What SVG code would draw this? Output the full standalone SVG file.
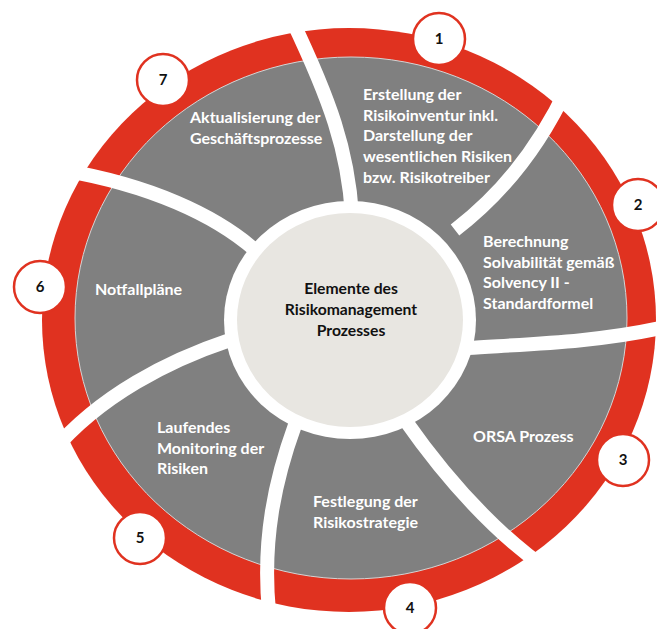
<svg xmlns="http://www.w3.org/2000/svg" width="657" height="629" viewBox="0 0 657 629">
<style>
.lbl{font-family:Lato,"Liberation Sans",sans-serif;font-weight:700;font-size:16px;fill:#ffffff}
.ctr{font-family:Lato,"Liberation Sans",sans-serif;font-weight:700;font-size:15.7px;fill:#111111;text-anchor:middle}
.num{font-family:Lato,"Liberation Sans",sans-serif;font-weight:700;font-size:15px;fill:#111111;text-anchor:middle}
.badge{fill:#ffffff;stroke:#e03220;stroke-width:2.5}
.sep{fill:none;stroke:#ffffff;stroke-width:14;stroke-linecap:butt}
</style>
<rect width="657" height="629" fill="#ffffff"/>
<g id="ring">
<ellipse cx="349" cy="320" rx="307" ry="292" fill="#e03220"/>
<ellipse cx="351" cy="318" rx="276" ry="261" fill="#808080" stroke="#d4d4d4" stroke-width="1"/>
</g>
<g id="separators">
<path class="sep" d="M352,215 C348,150 330,100 292,20"/>
<path class="sep" d="M455,230 C498,197 538,150 567,88"/>
<path class="sep" d="M468,348 C530,344 600,342 665,327"/>
<path class="sep" d="M405,420 C440,470 490,530 552,573"/>
<path class="sep" d="M295,425 C275,480 262,540 269,612"/>
<path class="sep" d="M230,340 C170,360 100,395 52,452"/>
<path class="sep" d="M255,250 C215,215 150,185 62,170"/>
</g>
<g id="center">
<ellipse cx="350" cy="320" rx="126" ry="119" fill="#ffffff"/>
<ellipse cx="350" cy="320" rx="113" ry="107" fill="#e8e6e1"/>
<text class="ctr" x="351" y="293.5">Elemente des</text>
<text class="ctr" x="351" y="314.5">Risikomanagement</text>
<text class="ctr" x="351" y="335.5">Prozesses</text>
</g>
<g id="seg1">
<text class="lbl" x="363" y="100">Erstellung der</text>
<text class="lbl" x="363" y="120.7">Risikoinventur inkl.</text>
<text class="lbl" x="363" y="141.4">Darstellung der</text>
<text class="lbl" x="363" y="162.1">wesentlichen Risiken</text>
<text class="lbl" x="363" y="182.8">bzw. Risikotreiber</text>
<circle class="badge" cx="439" cy="39" r="26"/>
<text class="num" x="439" y="44">1</text>
</g>
<g id="seg2">
<text class="lbl" x="483" y="247">Berechnung</text>
<text class="lbl" x="483" y="267.7">Solvabilität gemäß</text>
<text class="lbl" x="483" y="288.4">Solvency II -</text>
<text class="lbl" x="483" y="309.1">Standardformel</text>
<circle class="badge" cx="638" cy="205" r="26"/>
<text class="num" x="638" y="210">2</text>
</g>
<g id="seg3">
<text class="lbl" x="473" y="442">ORSA Prozess</text>
<circle class="badge" cx="623" cy="460" r="26"/>
<text class="num" x="623" y="465">3</text>
</g>
<g id="seg4">
<text class="lbl" x="313" y="507">Festlegung der</text>
<text class="lbl" x="313" y="527.7">Risikostrategie</text>
<circle class="badge" cx="410" cy="608" r="26"/>
<text class="num" x="410" y="613">4</text>
</g>
<g id="seg5">
<text class="lbl" x="157" y="433">Laufendes</text>
<text class="lbl" x="157" y="453.7">Monitoring der</text>
<text class="lbl" x="157" y="474.4">Risiken</text>
<circle class="badge" cx="140" cy="538" r="26"/>
<text class="num" x="140" y="543">5</text>
</g>
<g id="seg6">
<text class="lbl" x="95" y="295">Notfallpläne</text>
<circle class="badge" cx="40" cy="287" r="26"/>
<text class="num" x="40" y="292">6</text>
</g>
<g id="seg7">
<text class="lbl" x="190" y="123">Aktualisierung der</text>
<text class="lbl" x="190" y="143.7">Geschäftsprozesse</text>
<circle class="badge" cx="163" cy="80" r="26"/>
<text class="num" x="163" y="85">7</text>
</g>
</svg>
